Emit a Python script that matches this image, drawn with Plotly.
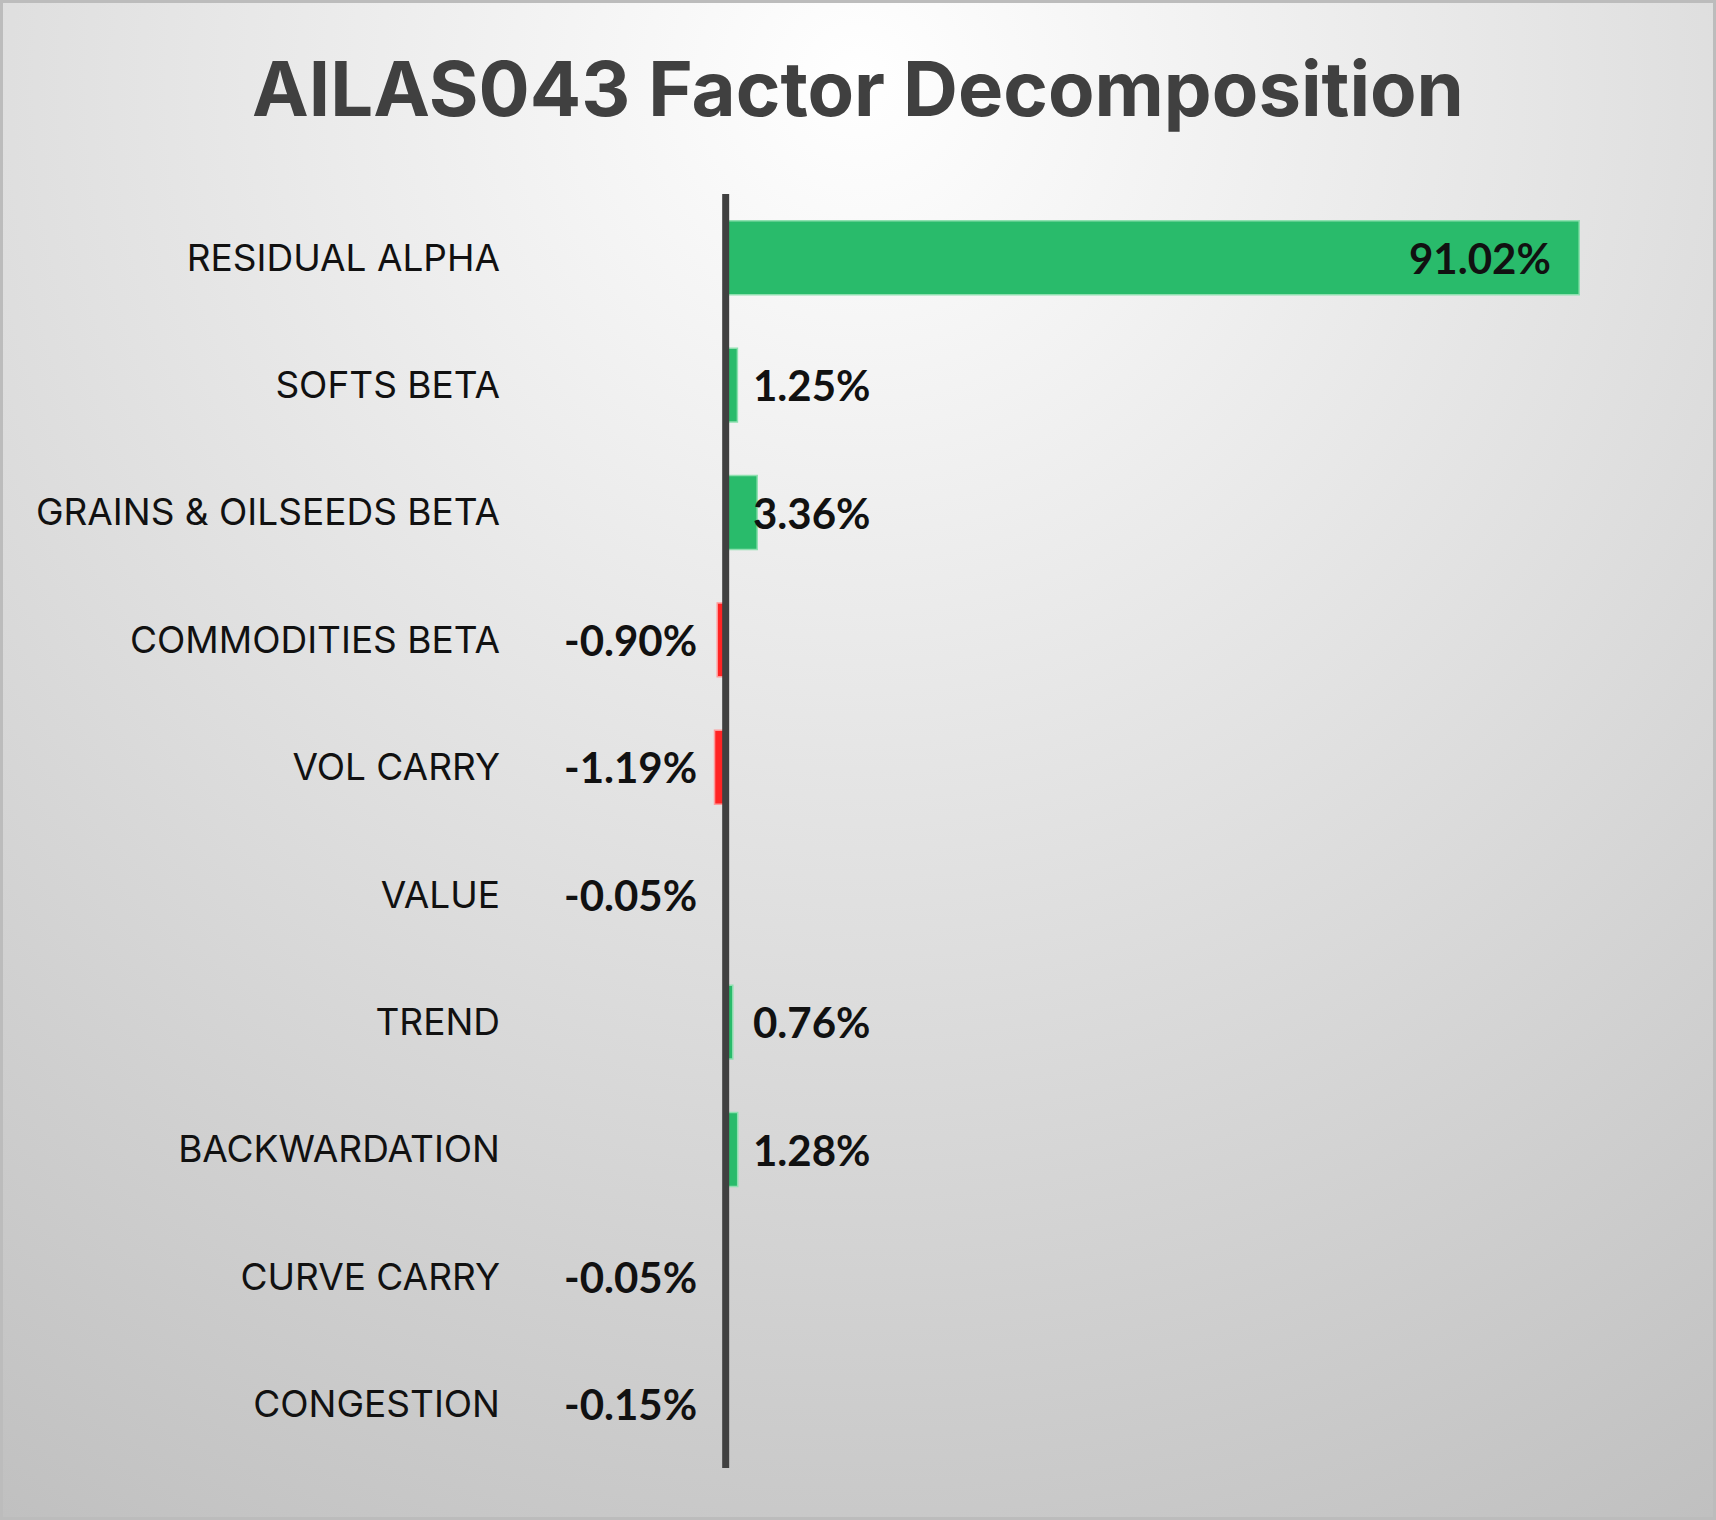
import base64
import plotly.graph_objects as go

# data, top to bottom
factors = ["RESIDUAL ALPHA", "SOFTS BETA", "GRAINS & OILSEEDS BETA", "COMMODITIES BETA",
           "VOL CARRY", "VALUE", "TREND", "BACKWARDATION", "CURVE CARRY", "CONGESTION"]
contrib = [91.02, 1.25, 3.36, -0.90, -1.19, -0.05, 0.76, 1.28, -0.05, -0.15]
value_labels = ["91.02%", "1.25%", "3.36%", "-0.90%", "-1.19%", "-0.05%", "0.76%", "1.28%", "-0.05%", "-0.15%"]

W, H = 1716, 1520
L, R, T, B = 510, 76, 194, 52
pw, ph = W - L - R, H - T - B

GREEN = "#29bb6b"
RED = "#ff2424"

# background: soft radial gradient with a thin grey frame
bg_svg = f'''<svg xmlns="http://www.w3.org/2000/svg" width="{W}" height="{H}" viewBox="0 0 {W} {H}">
<defs><radialGradient id="g" gradientUnits="userSpaceOnUse" cx="858" cy="80" r="1750">
<stop offset="0" stop-color="#ffffff"/><stop offset="1" stop-color="#bdbdbd"/></radialGradient></defs>
<rect width="{W}" height="{H}" fill="url(#g)"/>
<rect x="1.5" y="1.5" width="{W - 3}" height="{H - 3}" fill="none" stroke="#bcbcbc" stroke-width="3"/>
</svg>'''
bg_src = "data:image/svg+xml;base64," + base64.b64encode(bg_svg.encode()).decode()

colors = [GREEN if v >= 0 else RED for v in contrib]
edge = ["#8fe0b0" if v >= 0 else "#ff9a9a" for v in contrib]

fig = go.Figure()
fig.add_trace(go.Bar(
    x=contrib, y=factors, orientation="h",
    marker=dict(color=colors, line=dict(color=edge, width=1.5)),
    width=0.58, hoverinfo="x+y", showlegend=False,
))

# value labels
for f, v, lab in zip(factors, contrib, value_labels):
    if v > 10:
        ann = dict(x=v, xanchor="right", xshift=-26)
    elif v >= 0:
        ann = dict(x=0, xanchor="left", xshift=25)
    else:
        ann = dict(x=0, xanchor="right", xshift=-27)
    fig.add_annotation(y=f, text=lab, showarrow=False, yanchor="middle",
                       font=dict(family="Lato", size=42, color="#111111", weight="bold"), **ann)

# zero line drawn over the bars
fig.add_shape(type="line", x0=0, x1=0, xref="x", y0=0, y1=1, yref="paper",
              line=dict(color="#404040", width=7), layer="above")

fig.update_layout(
    width=W, height=H,
    margin=dict(l=L, r=R, t=T, b=B, pad=0),
    paper_bgcolor="#e6e6e6",
    plot_bgcolor="rgba(0,0,0,0)",
    title=dict(text="AILAS043 Factor Decomposition", x=0.5, xanchor="center",
               y=1 - 89 / H, yanchor="middle",
               font=dict(family="Inter", size=76, color="#404040", weight="bold")),
    images=[dict(source=bg_src, xref="paper", yref="paper",
                 x=-L / pw, y=1 + T / ph, sizex=W / pw, sizey=H / ph,
                 xanchor="left", yanchor="top", sizing="stretch", layer="below")],
    bargap=0.42,
)
fig.update_xaxes(range=[-23, 97.5], showgrid=False, zeroline=False, showticklabels=False,
                 showline=False, fixedrange=True)
fig.update_yaxes(autorange="reversed", showgrid=False, zeroline=False, showline=False, ticks="",
                 ticklabelstandoff=9,
                 tickfont=dict(family="Inter", size=37, color="#111111"), fixedrange=True)

fig.write_html("out.html", config={"displayModeBar": False},
               post_script="document.body.style.margin='0';document.body.style.overflow='hidden';")
